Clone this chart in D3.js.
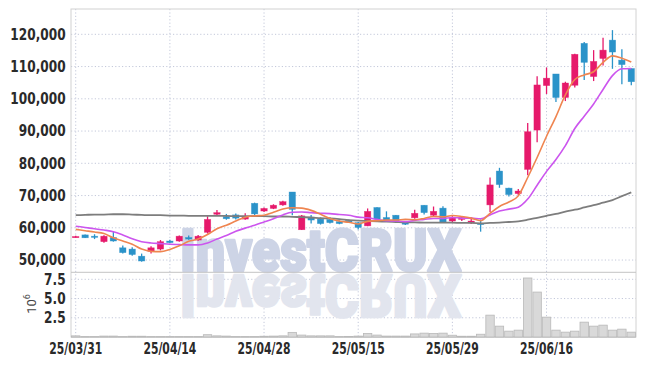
<!DOCTYPE html>
<html>
<head>
<meta charset="utf-8">
<script src="https://cdn.jsdelivr.net/npm/d3@7"></script>
<style>
  body { margin: 0; background: #fff; }
  .lbl { font-family: "Liberation Sans Narrow", "Arial Narrow", "DejaVu Sans Condensed", sans-serif; font-weight: bold; font-size: 15px; fill: #2a2a2a; }
</style>
</head>
<body>
<div id="vis"></div>
<script>
// trading days (yy/mm/dd)
const dates = [
  "25/03/31","25/04/01","25/04/02","25/04/03","25/04/04","25/04/07","25/04/08","25/04/09","25/04/10","25/04/11",
  "25/04/14","25/04/15","25/04/16","25/04/17","25/04/18","25/04/21","25/04/22","25/04/23","25/04/24","25/04/25",
  "25/04/28","25/04/29","25/04/30","25/05/02","25/05/07","25/05/08","25/05/09","25/05/12","25/05/13","25/05/14",
  "25/05/15","25/05/16","25/05/19","25/05/20","25/05/21","25/05/22","25/05/23","25/05/26","25/05/27","25/05/28",
  "25/05/29","25/05/30","25/06/02","25/06/04","25/06/05","25/06/09","25/06/10","25/06/11","25/06/12","25/06/13",
  "25/06/16","25/06/17","25/06/18","25/06/19","25/06/20","25/06/23","25/06/24","25/06/25","25/06/26","25/06/27"
];
const tickDates = ["25/03/31","25/04/14","25/04/28","25/05/15","25/05/29","25/06/16"];

const opens = [
  57200,57800,57400,55700,57000,53800,53400,51200,52700,53400,
  55900,55900,57000,56200,58600,64200,63500,64000,62700,67600,
  65200,66000,67100,71100,59400,63300,62700,62600,61900,62300,
  61600,60600,66300,63200,63900,61700,63100,67000,63900,66100,
  62100,62600,61500,61400,67100,77600,72300,70600,78100,90300,
  104100,107700,100400,104200,117200,106900,112500,118200,112000,109400
];
const highs = [
  57500,57900,58000,57700,58800,54500,54000,52000,54300,56200,
  56300,57600,57600,57800,63600,65500,64300,64400,64500,67800,
  66300,67300,68400,71100,64000,64000,63200,63300,62300,62600,
  61800,66000,66400,65100,64000,62000,65600,67000,66600,66700,
  63600,63600,63300,62600,75600,78600,72400,72000,92500,107000,
  109700,107700,105300,114000,117600,115100,118900,121300,115400,109400
];
const lows = [
  57000,56800,56500,55400,55700,52000,51300,49500,52000,53000,
  55200,55700,56300,56000,58200,63800,62500,62600,62500,63600,
  64900,65800,66800,63900,59300,61300,61000,61300,61100,61500,
  59500,60500,62500,62200,61700,60900,62800,64100,63400,61500,
  61600,62100,61200,58800,64900,72400,69700,70200,76300,86500,
  101500,99000,99300,103500,105800,105500,110300,109300,104500,104200
];
const closes = [
  57300,56900,57200,57400,55900,52300,51700,49700,53800,55700,
  55400,57400,56500,57400,62600,64700,62800,63000,63600,64300,
  66000,67000,68100,65700,63700,62400,61300,61600,61300,61800,
  60100,65100,62700,62400,61900,61100,64500,64700,65100,61600,
  63000,63200,62100,61000,73300,73400,70300,71400,89800,104300,
  106400,100400,104900,113800,111300,111600,115100,114500,110600,105300
];
const volumes = [
  150000,50000,50000,120000,120000,50000,100000,100000,50000,50000,
  50000,50000,50000,50000,300000,150000,120000,50000,50000,50000,
  100000,120000,150000,600000,250000,150000,150000,150000,50000,80000,
  120000,450000,250000,120000,120000,120000,400000,500000,450000,500000,
  230000,100000,100000,360000,2840000,1410000,760000,890000,7670000,5840000,
  2580000,890000,630000,760000,1930000,1410000,1540000,890000,1020000,630000
];
// moving averages as drawn
const ma5 = [
  59500,59100,58700,58200,56900,55900,54900,53400,52700,52600,
  53300,54400,55800,56500,57900,59700,60800,62100,63300,63700,
  63900,64800,65800,66200,66100,65400,64200,62900,62100,61700,
  61200,62000,62200,62400,62400,62600,62500,62900,63500,63400,
  63800,63500,63000,62200,64500,66600,68000,69900,75600,81800,
  88400,94500,101200,106000,107400,108400,111300,113300,112600,111400
];
const ma10 = [
  60500,60100,59700,59300,58800,57800,56600,55700,55300,55100,
  54900,54800,54700,54700,55300,56500,57600,58900,59900,60800,
  61800,62800,64000,64800,64900,64700,64500,64400,64100,63900,
  63300,63100,62600,62200,62100,61900,62300,62600,62900,62900,
  63200,63000,63000,62800,64000,65200,65800,66400,68900,73200,
  77500,81200,85500,90800,94600,98400,102900,107200,109300,109400
];
const maLong = [
  63900,64000,64100,64100,64200,64200,64100,64000,63900,63900,
  63800,63800,63700,63700,63700,63700,63700,63600,63600,63600,
  63600,63500,63500,63400,63300,63200,63000,62900,62700,62400,
  62200,62100,62000,61900,61800,61700,61700,61600,61600,61600,
  61600,61500,61500,61400,61500,61600,61800,62000,62500,63100,
  63700,64300,65000,65600,66300,67000,67800,68600,69800,71000
];
const priceTicks = [50000,60000,70000,80000,90000,100000,110000,120000];
const volTicks = [2500000,5000000,7500000];

const W = 645, H = 366;
const L = 71, R = 636, T = 9, SPLIT = 272.3, B = 337;

const RED = "#e6196b", BLUE = "#2b93c9";

const x = d3.scaleBand().domain(dates).range([L, R]);
const cx = d => x(d) + x.bandwidth() / 2;
const yP = d3.scaleLinear().domain([46200, 127850]).range([SPLIT, T]);
const yV = d3.scaleLinear().domain([0, 8410000]).range([B, SPLIT]);

const svg = d3.select("#vis").append("svg").attr("width", W).attr("height", H);

// grid
const grid = svg.append("g").attr("stroke", "#c3c8da").attr("stroke-dasharray", "1.2,2.2").attr("stroke-width", 1);
grid.selectAll(".hp").data(priceTicks).join("line")
  .attr("x1", L).attr("x2", R).attr("y1", d => yP(d)).attr("y2", d => yP(d));
grid.selectAll(".hv").data(volTicks).join("line")
  .attr("class", "hv")
  .attr("x1", L).attr("x2", R).attr("y1", d => yV(d)).attr("y2", d => yV(d));
grid.selectAll(".vx").data(tickDates).join("line")
  .attr("class", "vx")
  .attr("x1", d => cx(d)).attr("x2", d => cx(d)).attr("y1", T).attr("y2", B);

// watermark + reflection
const wm = svg.append("g").attr("font-family", "Roboto, 'DejaVu Sans', sans-serif")
  .attr("font-weight", 900).attr("font-size", 60).attr("stroke-width", 2.6).attr("stroke-linejoin", "round");
wm.append("text").attr("x", 180).attr("y", 271).attr("textLength", 281)
  .attr("lengthAdjust", "spacingAndGlyphs").attr("fill", "#cdd4e6").attr("stroke", "#cdd4e6")
  .text("InvestCRUX");
wm.append("text").attr("x", 180).attr("y", 271).attr("textLength", 281)
  .attr("lengthAdjust", "spacingAndGlyphs").attr("fill", "#e2e5ee").attr("stroke", "#e2e5ee")
  .attr("transform", `translate(0, ${2 * 273}) scale(1,-1)`)
  .text("InvestCRUX");

// frame
svg.append("rect").attr("x", L).attr("y", T).attr("width", R - L).attr("height", B - T)
  .attr("fill", "none").attr("stroke", "#d2d2d2");
svg.append("line").attr("x1", L).attr("x2", R).attr("y1", SPLIT).attr("y2", SPLIT).attr("stroke", "#c4c4c4");
svg.append("line").attr("x1", L).attr("x2", R).attr("y1", B).attr("y2", B).attr("stroke", "#bdbdbd");

// volume bars
svg.append("g").selectAll("rect").data(dates).join("rect")
  .attr("x", d => x(d) + 0.5)
  .attr("width", x.bandwidth() - 1)
  .attr("y", (d, i) => yV(volumes[i]))
  .attr("height", (d, i) => B - yV(volumes[i]))
  .attr("fill", "#d9d9d9").attr("stroke", "#b9b9b9").attr("stroke-width", 0.8);

// candles
const candles = svg.append("g").selectAll("g").data(dates).join("g")
  .attr("fill", (d, i) => closes[i] >= opens[i] ? RED : BLUE)
  .attr("stroke", (d, i) => closes[i] >= opens[i] ? RED : BLUE);
candles.append("line")
  .attr("x1", d => cx(d)).attr("x2", d => cx(d))
  .attr("y1", (d, i) => yP(highs[i])).attr("y2", (d, i) => yP(lows[i]))
  .attr("stroke-width", 1.3);
candles.append("rect")
  .attr("x", d => cx(d) - 3.2).attr("width", 6.4)
  .attr("y", (d, i) => yP(Math.max(opens[i], closes[i])))
  .attr("height", (d, i) => Math.max(1.2, Math.abs(yP(opens[i]) - yP(closes[i]))))
  .attr("stroke-width", 0.6).attr("stroke-opacity", 0.6);

// moving average lines
const line = vals => d3.line().x((d, i) => cx(dates[i])).y(d => yP(d)).curve(d3.curveMonotoneX)(vals);
svg.append("path").attr("d", line(maLong)).attr("fill", "none").attr("stroke", "#7d7d7d").attr("stroke-width", 1.8);
svg.append("path").attr("d", line(ma10)).attr("fill", "none").attr("stroke", "#cc55ee").attr("stroke-width", 1.6);
svg.append("path").attr("d", line(ma5)).attr("fill", "none").attr("stroke", "#ef8550").attr("stroke-width", 1.6);

// axes
const axP = svg.append("g").attr("transform", `translate(${L},0)`)
  .call(d3.axisLeft(yP).tickValues(priceTicks).tickSize(0).tickPadding(6).tickFormat(d3.format(",")));
const axV = svg.append("g").attr("transform", `translate(${L},0)`)
  .call(d3.axisLeft(yV).tickValues(volTicks).tickSize(0).tickPadding(6).tickFormat(d => (d / 1e6).toFixed(1)));
const axX = svg.append("g").attr("transform", `translate(0,${B})`)
  .call(d3.axisBottom(x).tickValues(tickDates).tickSize(0).tickPadding(6));
[axP, axV, axX].forEach(a => {
  a.select(".domain").remove();
  a.selectAll("text").attr("class", "lbl").attr("font-family", null).attr("font-size", null).attr("fill", null);
});
// the reference uses a narrow face; squeeze horizontally
axP.selectAll("text").attr("transform", "scale(0.9,1)");
axV.selectAll("text").attr("transform", "scale(0.9,1)");
axX.selectAll("text").attr("transform", "scale(0.8,1)");

// unit label
const unit = svg.append("text")
  .attr("transform", "translate(36,304) rotate(-90)")
  .attr("text-anchor", "middle")
  .attr("font-family", "Roboto, 'DejaVu Sans', sans-serif")
  .attr("font-size", 13).attr("fill", "#444");
unit.append("tspan").text("10");
unit.append("tspan").attr("dy", -6).attr("font-size", 9).text("6");
</script>
</body>
</html>
